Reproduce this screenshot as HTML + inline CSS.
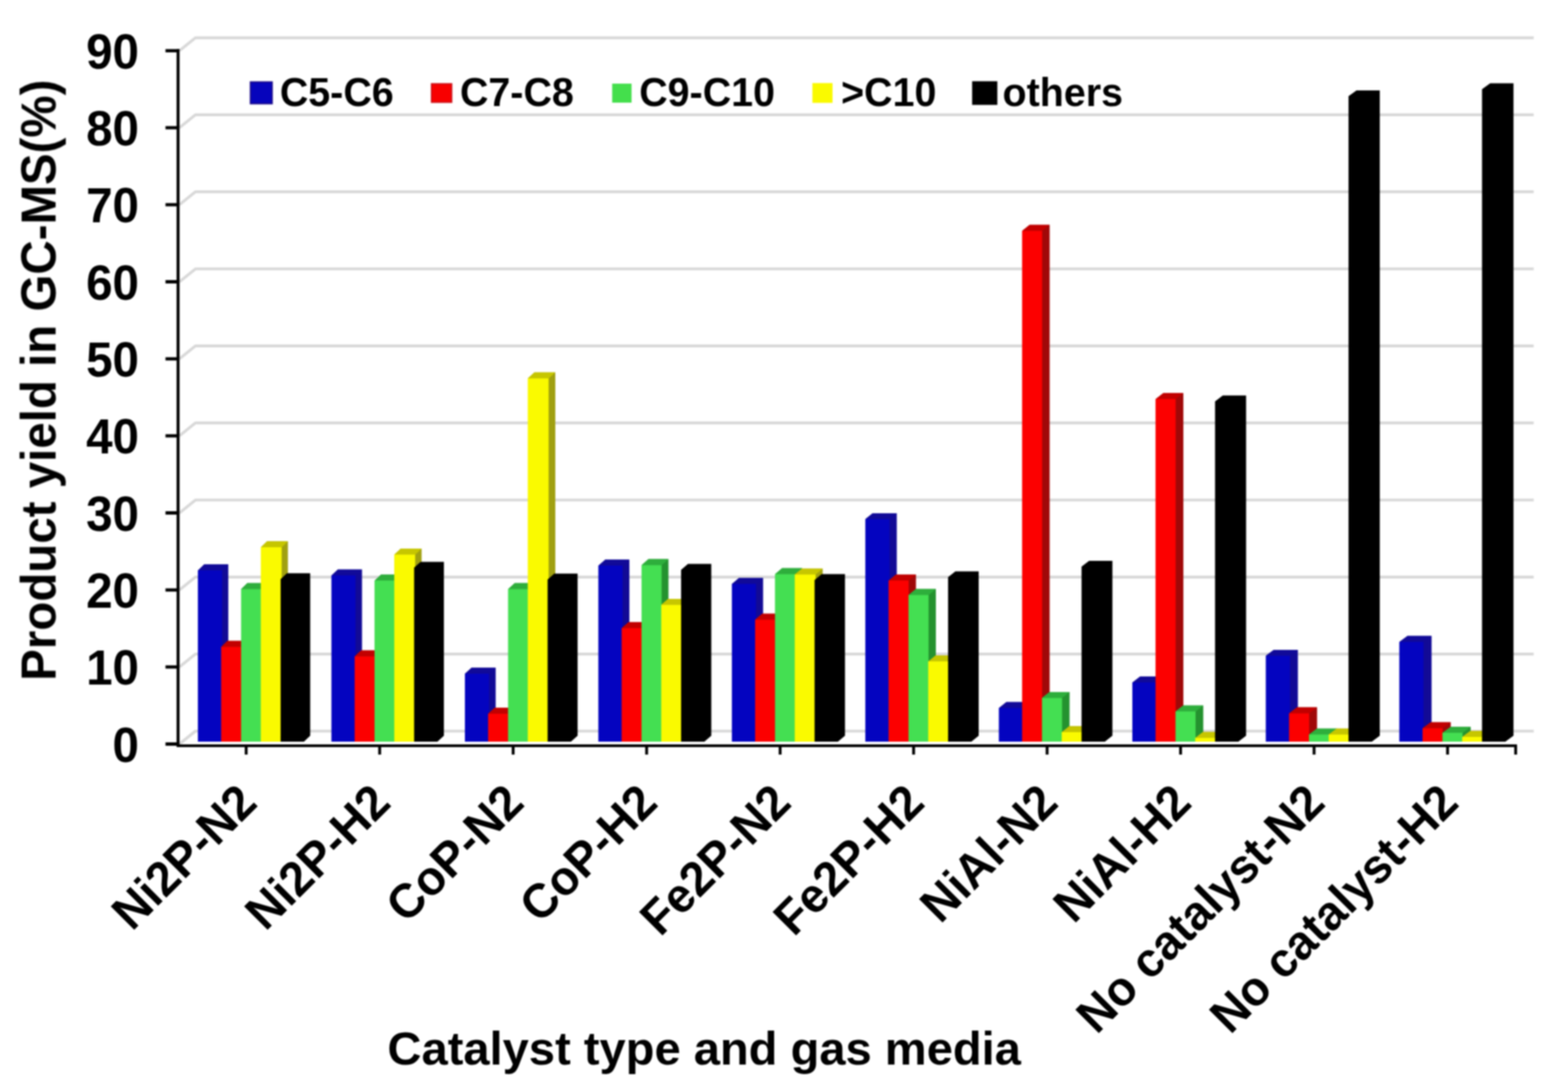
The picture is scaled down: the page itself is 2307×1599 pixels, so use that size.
<!DOCTYPE html><html><head><meta charset="utf-8"><title>Product yield chart</title><style>html,body{margin:0;padding:0;background:#fff;}svg{display:block;}</style></head><body>
<svg width="2307" height="1599" viewBox="0 0 2307 1599">
<defs><filter id="soft" filterUnits="userSpaceOnUse" color-interpolation-filters="sRGB" x="0" y="0" width="2307" height="1599"><feGaussianBlur stdDeviation="0.8"/></filter></defs>
<rect width="2307" height="1599" fill="#ffffff"/>
<g filter="url(#soft)">
<path d="M264,1094.5 L287.5,1075.5 L2256.5,1075.5 M264,981.17 L287.5,962.17 L2256.5,962.17 M264,867.84 L287.5,848.84 L2256.5,848.84 M264,754.51 L287.5,735.51 L2256.5,735.51 M264,641.18 L287.5,622.18 L2256.5,622.18 M264,527.85 L287.5,508.85 L2256.5,508.85 M264,414.52 L287.5,395.52 L2256.5,395.52 M264,301.19 L287.5,282.19 L2256.5,282.19 M264,187.86 L287.5,168.86 L2256.5,168.86 M264,74.53 L287.5,55.53 L2256.5,55.53" fill="none" stroke="#d8d8d8" stroke-width="4.2" stroke-linejoin="round"/>
<g>
<polygon points="291.7,1091 291.7,839 300.4,830.3 335.9,830.3 335.9,1082.3 326.7,1091" fill="#120a96"/>
<polygon points="291.2,839 300.4,830.3 335.9,830.3 327,839" fill="#110a98"/>
<rect x="291.2" y="839" width="35.5" height="252" fill="#0404c0"/>
<polygon points="325.9,1091 325.9,951.5 334.6,942.8 364.1,942.8 364.1,1082.3 354.9,1091" fill="#a00808"/>
<polygon points="325.4,951.5 334.6,942.8 364.1,942.8 355.2,951.5" fill="#c20000"/>
<rect x="325.4" y="951.5" width="29.5" height="139.5" fill="#fc0000"/>
<polygon points="355.2,1091 355.2,866.5 363.9,857.8 393.4,857.8 393.4,1082.3 384.2,1091" fill="#24922f"/>
<polygon points="354.7,866.5 363.9,857.8 393.4,857.8 384.5,866.5" fill="#2eae3c"/>
<rect x="354.7" y="866.5" width="29.5" height="224.5" fill="#44df52"/>
<polygon points="384.2,1091 384.2,805 392.9,796.3 423.6,796.3 423.6,1082.3 414.4,1091" fill="#a0a010"/>
<polygon points="383.7,805 392.9,796.3 423.6,796.3 414.7,805" fill="#c6c600"/>
<rect x="383.7" y="805" width="30.7" height="286" fill="#fafa00"/>
<polygon points="412.9,1091 412.9,852 422.1,843.3 456.4,843.3 456.4,1082.3 447.2,1091" fill="#000000"/>
<polygon points="488.1,1091 488.1,846.4 497.11,837.7 532.61,837.7 532.61,1082.3 523.1,1091" fill="#120a96"/>
<polygon points="487.6,846.4 497.11,837.7 532.61,837.7 523.4,846.4" fill="#110a98"/>
<rect x="487.6" y="846.4" width="35.5" height="244.6" fill="#0404c0"/>
<polygon points="522.3,1091 522.3,965.5 531.31,956.8 560.81,956.8 560.81,1082.3 551.3,1091" fill="#a00808"/>
<polygon points="521.8,965.5 531.31,956.8 560.81,956.8 551.6,965.5" fill="#c20000"/>
<rect x="521.8" y="965.5" width="29.5" height="125.5" fill="#fc0000"/>
<polygon points="551.6,1091 551.6,854 560.61,845.3 590.11,845.3 590.11,1082.3 580.6,1091" fill="#24922f"/>
<polygon points="551.1,854 560.61,845.3 590.11,845.3 580.9,854" fill="#2eae3c"/>
<rect x="551.1" y="854" width="29.5" height="237" fill="#44df52"/>
<polygon points="580.6,1091 580.6,815.7 589.61,807 620.31,807 620.31,1082.3 610.8,1091" fill="#a0a010"/>
<polygon points="580.1,815.7 589.61,807 620.31,807 611.1,815.7" fill="#c6c600"/>
<rect x="580.1" y="815.7" width="30.7" height="275.3" fill="#fafa00"/>
<polygon points="609.3,1091 609.3,835.1 618.81,826.4 653.11,826.4 653.11,1082.3 643.6,1091" fill="#000000"/>
<polygon points="684.5,1091 684.5,991 693.82,982.3 729.32,982.3 729.32,1082.3 719.5,1091" fill="#120a96"/>
<polygon points="684,991 693.82,982.3 729.32,982.3 719.8,991" fill="#110a98"/>
<rect x="684" y="991" width="35.5" height="100" fill="#0404c0"/>
<polygon points="718.7,1091 718.7,1049.8 728.02,1041.1 757.52,1041.1 757.52,1082.3 747.7,1091" fill="#a00808"/>
<polygon points="718.2,1049.8 728.02,1041.1 757.52,1041.1 748,1049.8" fill="#c20000"/>
<rect x="718.2" y="1049.8" width="29.5" height="41.2" fill="#fc0000"/>
<polygon points="748,1091 748,866.5 757.32,857.8 786.82,857.8 786.82,1082.3 777,1091" fill="#24922f"/>
<polygon points="747.5,866.5 757.32,857.8 786.82,857.8 777.3,866.5" fill="#2eae3c"/>
<rect x="747.5" y="866.5" width="29.5" height="224.5" fill="#44df52"/>
<polygon points="777,1091 777,556.5 786.32,547.8 817.02,547.8 817.02,1082.3 807.2,1091" fill="#a0a010"/>
<polygon points="776.5,556.5 786.32,547.8 817.02,547.8 807.5,556.5" fill="#c6c600"/>
<rect x="776.5" y="556.5" width="30.7" height="534.5" fill="#fafa00"/>
<polygon points="805.7,1091 805.7,852.5 815.52,843.8 849.82,843.8 849.82,1082.3 840,1091" fill="#000000"/>
<polygon points="880.9,1091 880.9,832 890.53,823.3 926.03,823.3 926.03,1082.3 915.9,1091" fill="#120a96"/>
<polygon points="880.4,832 890.53,823.3 926.03,823.3 916.2,832" fill="#110a98"/>
<rect x="880.4" y="832" width="35.5" height="259" fill="#0404c0"/>
<polygon points="915.1,1091 915.1,924 924.73,915.3 954.23,915.3 954.23,1082.3 944.1,1091" fill="#a00808"/>
<polygon points="914.6,924 924.73,915.3 954.23,915.3 944.4,924" fill="#c20000"/>
<rect x="914.6" y="924" width="29.5" height="167" fill="#fc0000"/>
<polygon points="944.4,1091 944.4,831.3 954.03,822.6 983.53,822.6 983.53,1082.3 973.4,1091" fill="#24922f"/>
<polygon points="943.9,831.3 954.03,822.6 983.53,822.6 973.7,831.3" fill="#2eae3c"/>
<rect x="943.9" y="831.3" width="29.5" height="259.7" fill="#44df52"/>
<polygon points="973.4,1091 973.4,889.6 983.03,880.9 1013.73,880.9 1013.73,1082.3 1003.6,1091" fill="#a0a010"/>
<polygon points="972.9,889.6 983.03,880.9 1013.73,880.9 1003.9,889.6" fill="#c6c600"/>
<rect x="972.9" y="889.6" width="30.7" height="201.4" fill="#fafa00"/>
<polygon points="1002.1,1091 1002.1,838.2 1012.23,829.5 1046.53,829.5 1046.53,1082.3 1036.4,1091" fill="#000000"/>
<polygon points="1077.3,1091 1077.3,858.9 1087.24,850.2 1122.74,850.2 1122.74,1082.3 1112.3,1091" fill="#120a96"/>
<polygon points="1076.8,858.9 1087.24,850.2 1122.74,850.2 1112.6,858.9" fill="#110a98"/>
<rect x="1076.8" y="858.9" width="35.5" height="232.1" fill="#0404c0"/>
<polygon points="1111.5,1091 1111.5,911.5 1121.44,902.8 1150.94,902.8 1150.94,1082.3 1140.5,1091" fill="#a00808"/>
<polygon points="1111,911.5 1121.44,902.8 1150.94,902.8 1140.8,911.5" fill="#c20000"/>
<rect x="1111" y="911.5" width="29.5" height="179.5" fill="#fc0000"/>
<polygon points="1140.8,1091 1140.8,844.5 1150.74,835.8 1180.24,835.8 1180.24,1082.3 1169.8,1091" fill="#24922f"/>
<polygon points="1140.3,844.5 1150.74,835.8 1180.24,835.8 1170.1,844.5" fill="#2eae3c"/>
<rect x="1140.3" y="844.5" width="29.5" height="246.5" fill="#44df52"/>
<polygon points="1169.8,1091 1169.8,845.1 1179.74,836.4 1210.44,836.4 1210.44,1082.3 1200,1091" fill="#a0a010"/>
<polygon points="1169.3,845.1 1179.74,836.4 1210.44,836.4 1200.3,845.1" fill="#c6c600"/>
<rect x="1169.3" y="845.1" width="30.7" height="245.9" fill="#fafa00"/>
<polygon points="1198.5,1091 1198.5,853.3 1208.94,844.6 1243.24,844.6 1243.24,1082.3 1232.8,1091" fill="#000000"/>
<polygon points="1273.7,1091 1273.7,763.6 1283.96,754.9 1319.46,754.9 1319.46,1082.3 1308.7,1091" fill="#120a96"/>
<polygon points="1273.2,763.6 1283.96,754.9 1319.46,754.9 1309,763.6" fill="#110a98"/>
<rect x="1273.2" y="763.6" width="35.5" height="327.4" fill="#0404c0"/>
<polygon points="1307.9,1091 1307.9,854 1318.16,845.3 1347.66,845.3 1347.66,1082.3 1336.9,1091" fill="#a00808"/>
<polygon points="1307.4,854 1318.16,845.3 1347.66,845.3 1337.2,854" fill="#c20000"/>
<rect x="1307.4" y="854" width="29.5" height="237" fill="#fc0000"/>
<polygon points="1337.2,1091 1337.2,875.2 1347.46,866.5 1376.96,866.5 1376.96,1082.3 1366.2,1091" fill="#24922f"/>
<polygon points="1336.7,875.2 1347.46,866.5 1376.96,866.5 1366.5,875.2" fill="#2eae3c"/>
<rect x="1336.7" y="875.2" width="29.5" height="215.8" fill="#44df52"/>
<polygon points="1366.2,1091 1366.2,972.9 1376.46,964.2 1407.16,964.2 1407.16,1082.3 1396.4,1091" fill="#a0a010"/>
<polygon points="1365.7,972.9 1376.46,964.2 1407.16,964.2 1396.7,972.9" fill="#c6c600"/>
<rect x="1365.7" y="972.9" width="30.7" height="118.1" fill="#fafa00"/>
<polygon points="1394.9,1091 1394.9,849.1 1405.66,840.4 1439.96,840.4 1439.96,1082.3 1429.2,1091" fill="#000000"/>
<polygon points="1470.1,1091 1470.1,1041.4 1480.67,1032.7 1516.17,1032.7 1516.17,1082.3 1505.1,1091" fill="#120a96"/>
<polygon points="1469.6,1041.4 1480.67,1032.7 1516.17,1032.7 1505.4,1041.4" fill="#110a98"/>
<rect x="1469.6" y="1041.4" width="35.5" height="49.6" fill="#0404c0"/>
<polygon points="1504.3,1091 1504.3,339.5 1514.87,330.8 1544.37,330.8 1544.37,1082.3 1533.3,1091" fill="#a00808"/>
<polygon points="1503.8,339.5 1514.87,330.8 1544.37,330.8 1533.6,339.5" fill="#c20000"/>
<rect x="1503.8" y="339.5" width="29.5" height="751.5" fill="#fc0000"/>
<polygon points="1533.6,1091 1533.6,1026.6 1544.17,1017.9 1573.67,1017.9 1573.67,1082.3 1562.6,1091" fill="#24922f"/>
<polygon points="1533.1,1026.6 1544.17,1017.9 1573.67,1017.9 1562.9,1026.6" fill="#2eae3c"/>
<rect x="1533.1" y="1026.6" width="29.5" height="64.4" fill="#44df52"/>
<polygon points="1562.6,1091 1562.6,1077 1573.17,1068.3 1603.87,1068.3 1603.87,1082.3 1592.8,1091" fill="#a0a010"/>
<polygon points="1562.1,1077 1573.17,1068.3 1603.87,1068.3 1593.1,1077" fill="#c6c600"/>
<rect x="1562.1" y="1077" width="30.7" height="14" fill="#fafa00"/>
<polygon points="1591.3,1091 1591.3,833.6 1602.37,824.9 1636.67,824.9 1636.67,1082.3 1625.6,1091" fill="#000000"/>
<polygon points="1666.5,1091 1666.5,1003.9 1677.38,995.2 1712.88,995.2 1712.88,1082.3 1701.5,1091" fill="#120a96"/>
<polygon points="1666,1003.9 1677.38,995.2 1712.88,995.2 1701.8,1003.9" fill="#110a98"/>
<rect x="1666" y="1003.9" width="35.5" height="87.1" fill="#0404c0"/>
<polygon points="1700.7,1091 1700.7,587 1711.58,578.3 1741.08,578.3 1741.08,1082.3 1729.7,1091" fill="#a00808"/>
<polygon points="1700.2,587 1711.58,578.3 1741.08,578.3 1730,587" fill="#c20000"/>
<rect x="1700.2" y="587" width="29.5" height="504" fill="#fc0000"/>
<polygon points="1730,1091 1730,1046.4 1740.88,1037.7 1770.38,1037.7 1770.38,1082.3 1759,1091" fill="#24922f"/>
<polygon points="1729.5,1046.4 1740.88,1037.7 1770.38,1037.7 1759.3,1046.4" fill="#2eae3c"/>
<rect x="1729.5" y="1046.4" width="29.5" height="44.6" fill="#44df52"/>
<polygon points="1759,1091 1759,1085.4 1769.88,1076.7 1800.58,1076.7 1800.58,1082.3 1789.2,1091" fill="#a0a010"/>
<polygon points="1758.5,1085.4 1769.88,1076.7 1800.58,1076.7 1789.5,1085.4" fill="#c6c600"/>
<rect x="1758.5" y="1085.4" width="30.7" height="5.6" fill="#fafa00"/>
<polygon points="1787.7,1091 1787.7,590.4 1799.08,581.7 1833.38,581.7 1833.38,1082.3 1822,1091" fill="#000000"/>
<polygon points="1862.9,1091 1862.9,964.6 1874.09,955.9 1909.59,955.9 1909.59,1082.3 1897.9,1091" fill="#120a96"/>
<polygon points="1862.4,964.6 1874.09,955.9 1909.59,955.9 1898.2,964.6" fill="#110a98"/>
<rect x="1862.4" y="964.6" width="35.5" height="126.4" fill="#0404c0"/>
<polygon points="1897.1,1091 1897.1,1049.3 1908.29,1040.6 1937.79,1040.6 1937.79,1082.3 1926.1,1091" fill="#a00808"/>
<polygon points="1896.6,1049.3 1908.29,1040.6 1937.79,1040.6 1926.4,1049.3" fill="#c20000"/>
<rect x="1896.6" y="1049.3" width="29.5" height="41.7" fill="#fc0000"/>
<polygon points="1926.4,1091 1926.4,1080.4 1937.59,1071.7 1967.09,1071.7 1967.09,1082.3 1955.4,1091" fill="#24922f"/>
<polygon points="1925.9,1080.4 1937.59,1071.7 1967.09,1071.7 1955.7,1080.4" fill="#2eae3c"/>
<rect x="1925.9" y="1080.4" width="29.5" height="10.6" fill="#44df52"/>
<polygon points="1955.4,1091 1955.4,1080.4 1966.59,1071.7 1997.29,1071.7 1997.29,1082.3 1985.6,1091" fill="#a0a010"/>
<polygon points="1954.9,1080.4 1966.59,1071.7 1997.29,1071.7 1985.9,1080.4" fill="#c6c600"/>
<rect x="1954.9" y="1080.4" width="30.7" height="10.6" fill="#fafa00"/>
<polygon points="1984.1,1091 1984.1,141.6 1995.79,132.9 2030.09,132.9 2030.09,1082.3 2018.4,1091" fill="#000000"/>
<polygon points="2059.3,1091 2059.3,944.3 2070.8,935.6 2106.3,935.6 2106.3,1082.3 2094.3,1091" fill="#120a96"/>
<polygon points="2058.8,944.3 2070.8,935.6 2106.3,935.6 2094.6,944.3" fill="#110a98"/>
<rect x="2058.8" y="944.3" width="35.5" height="146.7" fill="#0404c0"/>
<polygon points="2093.5,1091 2093.5,1071.2 2105,1062.5 2134.5,1062.5 2134.5,1082.3 2122.5,1091" fill="#a00808"/>
<polygon points="2093,1071.2 2105,1062.5 2134.5,1062.5 2122.8,1071.2" fill="#c20000"/>
<rect x="2093" y="1071.2" width="29.5" height="19.8" fill="#fc0000"/>
<polygon points="2122.8,1091 2122.8,1077.9 2134.3,1069.2 2163.8,1069.2 2163.8,1082.3 2151.8,1091" fill="#24922f"/>
<polygon points="2122.3,1077.9 2134.3,1069.2 2163.8,1069.2 2152.1,1077.9" fill="#2eae3c"/>
<rect x="2122.3" y="1077.9" width="29.5" height="13.1" fill="#44df52"/>
<polygon points="2151.8,1091 2151.8,1084 2163.3,1075.3 2194,1075.3 2194,1082.3 2182,1091" fill="#a0a010"/>
<polygon points="2151.3,1084 2163.3,1075.3 2194,1075.3 2182.3,1084" fill="#c6c600"/>
<rect x="2151.3" y="1084" width="30.7" height="7" fill="#fafa00"/>
<polygon points="2180.5,1091 2180.5,131.2 2192.5,122.5 2226.8,122.5 2226.8,1082.3 2214.8,1091" fill="#000000"/>
</g>
<path d="M262,72.13 L262,1099" fill="none" stroke="#000" stroke-width="4.4"/>
<path d="M243.5,1094.5 L264,1094.5 M243.5,981.17 L264,981.17 M243.5,867.84 L264,867.84 M243.5,754.51 L264,754.51 M243.5,641.18 L264,641.18 M243.5,527.85 L264,527.85 M243.5,414.52 L264,414.52 M243.5,301.19 L264,301.19 M243.5,187.86 L264,187.86 M243.5,74.53 L264,74.53" fill="none" stroke="#000" stroke-width="4.8"/>
<path d="M260,1097 L2232,1097 M362.2,1097 L362.2,1110 M558.6,1097 L558.6,1110 M755,1097 L755,1110 M951.4,1097 L951.4,1110 M1147.8,1097 L1147.8,1110 M1344.2,1097 L1344.2,1110 M1540.6,1097 L1540.6,1110 M1737,1097 L1737,1110 M1933.4,1097 L1933.4,1110 M2129.8,1097 L2129.8,1110 M2230,1097 L2230,1110" fill="none" stroke="#000" stroke-width="4.2"/>
<text transform="translate(204.5,1120.6) scale(1,1.045)" font-size="70" text-anchor="end" font-family="'Liberation Sans', Arial, sans-serif" font-weight="bold">0</text>
<text transform="translate(204.5,1007.27) scale(1,1.045)" font-size="70" text-anchor="end" font-family="'Liberation Sans', Arial, sans-serif" font-weight="bold">10</text>
<text transform="translate(204.5,893.94) scale(1,1.045)" font-size="70" text-anchor="end" font-family="'Liberation Sans', Arial, sans-serif" font-weight="bold">20</text>
<text transform="translate(204.5,780.61) scale(1,1.045)" font-size="70" text-anchor="end" font-family="'Liberation Sans', Arial, sans-serif" font-weight="bold">30</text>
<text transform="translate(204.5,667.28) scale(1,1.045)" font-size="70" text-anchor="end" font-family="'Liberation Sans', Arial, sans-serif" font-weight="bold">40</text>
<text transform="translate(204.5,553.95) scale(1,1.045)" font-size="70" text-anchor="end" font-family="'Liberation Sans', Arial, sans-serif" font-weight="bold">50</text>
<text transform="translate(204.5,440.62) scale(1,1.045)" font-size="70" text-anchor="end" font-family="'Liberation Sans', Arial, sans-serif" font-weight="bold">60</text>
<text transform="translate(204.5,327.29) scale(1,1.045)" font-size="70" text-anchor="end" font-family="'Liberation Sans', Arial, sans-serif" font-weight="bold">70</text>
<text transform="translate(204.5,213.96) scale(1,1.045)" font-size="70" text-anchor="end" font-family="'Liberation Sans', Arial, sans-serif" font-weight="bold">80</text>
<text transform="translate(204.5,100.63) scale(1,1.045)" font-size="70" text-anchor="end" font-family="'Liberation Sans', Arial, sans-serif" font-weight="bold">90</text>
<text transform="translate(82,1001.5) rotate(-90) scale(1.027,1.05)" font-size="68" font-family="'Liberation Sans', Arial, sans-serif" font-weight="bold">Product yield in GC-MS(%)</text>
<text transform="translate(381.2,1184) rotate(-45) scale(1,1.03)" font-size="69" text-anchor="end" font-family="'Liberation Sans', Arial, sans-serif" font-weight="bold">Ni2P-N2</text>
<text transform="translate(577.6,1184) rotate(-45) scale(1,1.03)" font-size="69" text-anchor="end" font-family="'Liberation Sans', Arial, sans-serif" font-weight="bold">Ni2P-H2</text>
<text transform="translate(774,1184) rotate(-45) scale(1,1.03)" font-size="69" text-anchor="end" font-family="'Liberation Sans', Arial, sans-serif" font-weight="bold">CoP-N2</text>
<text transform="translate(970.4,1184) rotate(-45) scale(1,1.03)" font-size="69" text-anchor="end" font-family="'Liberation Sans', Arial, sans-serif" font-weight="bold">CoP-H2</text>
<text transform="translate(1166.8,1184) rotate(-45) scale(1,1.03)" font-size="69" text-anchor="end" font-family="'Liberation Sans', Arial, sans-serif" font-weight="bold">Fe2P-N2</text>
<text transform="translate(1363.2,1184) rotate(-45) scale(1,1.03)" font-size="69" text-anchor="end" font-family="'Liberation Sans', Arial, sans-serif" font-weight="bold">Fe2P-H2</text>
<text transform="translate(1559.6,1184) rotate(-45) scale(1,1.03)" font-size="69" text-anchor="end" font-family="'Liberation Sans', Arial, sans-serif" font-weight="bold">NiAl-N2</text>
<text transform="translate(1756,1184) rotate(-45) scale(1,1.03)" font-size="69" text-anchor="end" font-family="'Liberation Sans', Arial, sans-serif" font-weight="bold">NiAl-H2</text>
<text transform="translate(1952.4,1184) rotate(-45) scale(1,1.03)" font-size="69" text-anchor="end" font-family="'Liberation Sans', Arial, sans-serif" font-weight="bold">No catalyst-N2</text>
<text transform="translate(2148.8,1184) rotate(-45) scale(1,1.03)" font-size="69" text-anchor="end" font-family="'Liberation Sans', Arial, sans-serif" font-weight="bold">No catalyst-H2</text>
<text transform="translate(570.1,1566.4)" font-size="69.3" font-family="'Liberation Sans', Arial, sans-serif" font-weight="bold">Catalyst type and gas media</text>
<rect x="368.5" y="120.6" width="31.9" height="31.9" fill="#0604bc" stroke="#1c0c8a" stroke-width="2"/>
<text transform="translate(411.7,156.4) scale(1,1.03)" font-size="58" font-family="'Liberation Sans', Arial, sans-serif" font-weight="bold">C5-C6</text>
<rect x="634.9" y="123.3" width="29.6" height="27.1" fill="#f80000" stroke="#cc1018" stroke-width="2"/>
<text transform="translate(676.7,156.4) scale(1,1.03)" font-size="58" font-family="'Liberation Sans', Arial, sans-serif" font-weight="bold">C7-C8</text>
<rect x="900.7" y="123" width="28.5" height="28" fill="#44df4c"/>
<text transform="translate(940.5,156.4) scale(1,1.03)" font-size="58" font-family="'Liberation Sans', Arial, sans-serif" font-weight="bold">C9-C10</text>
<rect x="1195.3" y="122.2" width="29.6" height="29.1" fill="#fafa00"/>
<text transform="translate(1237.5,156.4) scale(1,1.03)" font-size="58" font-family="'Liberation Sans', Arial, sans-serif" font-weight="bold">&gt;C10</text>
<rect x="1430.3" y="119.5" width="37.1" height="34.8" fill="#000000"/>
<text transform="translate(1475,156.4) scale(1,1.03)" font-size="58" font-family="'Liberation Sans', Arial, sans-serif" font-weight="bold">others</text>
</g></svg></body></html>
